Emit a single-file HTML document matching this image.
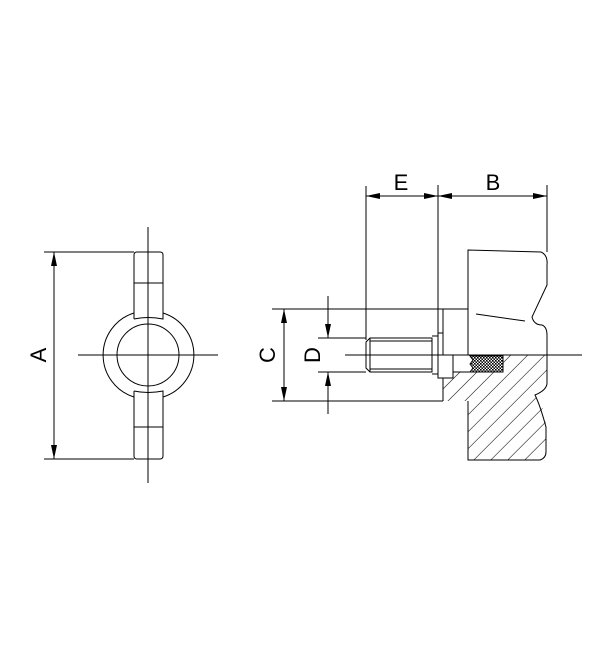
<!DOCTYPE html>
<html><head><style>html,body{margin:0;padding:0;background:#fff}svg{display:block}</style></head><body>
<svg width="600" height="650" viewBox="0 0 600 650" xmlns="http://www.w3.org/2000/svg">
<defs>
<pattern id="h" patternUnits="userSpaceOnUse" width="12" height="12" patternTransform="rotate(45)">
<line x1="0" y1="0" x2="0" y2="12" stroke="#000" stroke-width="1.1"/>
</pattern>
<pattern id="x" patternUnits="userSpaceOnUse" width="3" height="3">
<rect width="3" height="3" fill="#fff"/><rect width="1.6" height="1.6" fill="#000"/><rect x="1.5" y="1.5" width="1.5" height="1.5" fill="#000"/>
</pattern>
<marker id="a" markerWidth="14" markerHeight="6" refX="14" refY="3" orient="auto" markerUnits="userSpaceOnUse"><path d="M0,0 L14,3 L0,6 z" fill="#000"/></marker>
</defs>
<g fill="none" stroke="#000" stroke-width="1">
<line x1="148" y1="227" x2="148" y2="483"/>
<line x1="78" y1="355" x2="218" y2="355"/>
<circle cx="148" cy="355" r="31"/>
<path d="M134,313 A44,44 0 0 0 134,397"/>
<path d="M163,313 A44,44 0 0 1 163,397"/>
<path d="M134,319 L134,255 Q134,252 137,252 L160,252 Q163,252 163,255 L163,319 Q148,316 134,319"/>
<path d="M134,391 L134,456 Q134,459 137,459 L160,459 Q163,459 163,456 L163,391 Q148,394 134,391"/>
<line x1="134" y1="283" x2="163" y2="283"/>
<line x1="134" y1="427" x2="163" y2="427"/>
<line x1="44" y1="252" x2="134" y2="252"/>
<line x1="44" y1="459" x2="134" y2="459"/>
<line x1="54" y1="300" x2="54" y2="252" marker-end="url(#a)"/>
<line x1="54" y1="400" x2="54" y2="459" marker-end="url(#a)"/>
<line x1="54" y1="290" x2="54" y2="420"/>

<path d="M453,355 L547,355 L547,383 Q547,390 535,395 Q546,410 546,427 L546,452 Q546,458 540,460 L468,460 L468,401 L443,401 L443,378 L453,378 Z" fill="url(#h)" stroke="none"/>
<path d="M453,355 L503,355 L503,372 L453,372 Z" fill="#fff" stroke="none"/>
<path d="M470,356 L503,356 L503,372 L470,372 L473,368 L470,364 L473,360 Z" fill="url(#x)" stroke="#000"/>
<path d="M468,355 L468,250 L541,252 Q548,255 547,265 L547,285 Q540,300 532,317 Q534,325 542,325 Q547,327 547,335 L547,355"/>
<path d="M547,355 L547,383 Q547,390 535,395 Q540,405 546,427 L546,452 Q546,458 540,460 L468,460 L468,401"/>
<line x1="476" y1="314" x2="525" y2="321"/>
<line x1="503" y1="355" x2="503" y2="372"/>
<line x1="453" y1="372" x2="470" y2="372"/>
<rect x="438" y="355" width="15" height="23"/>
<line x1="443" y1="309" x2="443" y2="355"/>
<line x1="438" y1="333" x2="443" y2="333"/>
<line x1="443" y1="378" x2="443" y2="401"/>
<line x1="438" y1="185" x2="438" y2="355"/>
<line x1="547" y1="185" x2="547" y2="252"/>
<line x1="366" y1="186" x2="366" y2="340"/>
<path d="M370,338 L432,338 L432,372 L370,372 L366,368 L366,342 Z"/>
<line x1="370" y1="341" x2="432" y2="341"/>
<line x1="370" y1="369" x2="432" y2="369"/>
<line x1="370" y1="338" x2="370" y2="372"/>
<line x1="432" y1="336" x2="438" y2="336"/>
<line x1="432" y1="374" x2="438" y2="374"/>
<line x1="272" y1="309" x2="468" y2="309"/>
<line x1="272" y1="401" x2="443" y2="401"/>
<line x1="318" y1="338" x2="366" y2="338"/>
<line x1="318" y1="372" x2="366" y2="372"/>
<line x1="345" y1="355" x2="582" y2="355"/>
<line x1="284" y1="340" x2="284" y2="370"/>
<line x1="284" y1="340" x2="284" y2="309" marker-end="url(#a)"/>
<line x1="284" y1="370" x2="284" y2="401" marker-end="url(#a)"/>
<line x1="328" y1="296" x2="328" y2="338" marker-end="url(#a)"/>
<line x1="328" y1="414" x2="328" y2="372" marker-end="url(#a)"/>
<line x1="400" y1="196" x2="366" y2="196" marker-end="url(#a)"/>
<line x1="400" y1="196" x2="438" y2="196" marker-end="url(#a)"/>
<line x1="490" y1="196" x2="438" y2="196" marker-end="url(#a)"/>
<line x1="490" y1="196" x2="547" y2="196" marker-end="url(#a)"/>
</g>
<g font-family="Liberation Sans, sans-serif" font-size="22" fill="#000" text-anchor="middle">
<text x="401" y="190">E</text>
<text x="493" y="190">B</text>
<text transform="translate(46,355) rotate(-90)">A</text>
<text transform="translate(275,355) rotate(-90)">C</text>
<text transform="translate(320,355) rotate(-90)">D</text>
</g>
</svg>
</body></html>
